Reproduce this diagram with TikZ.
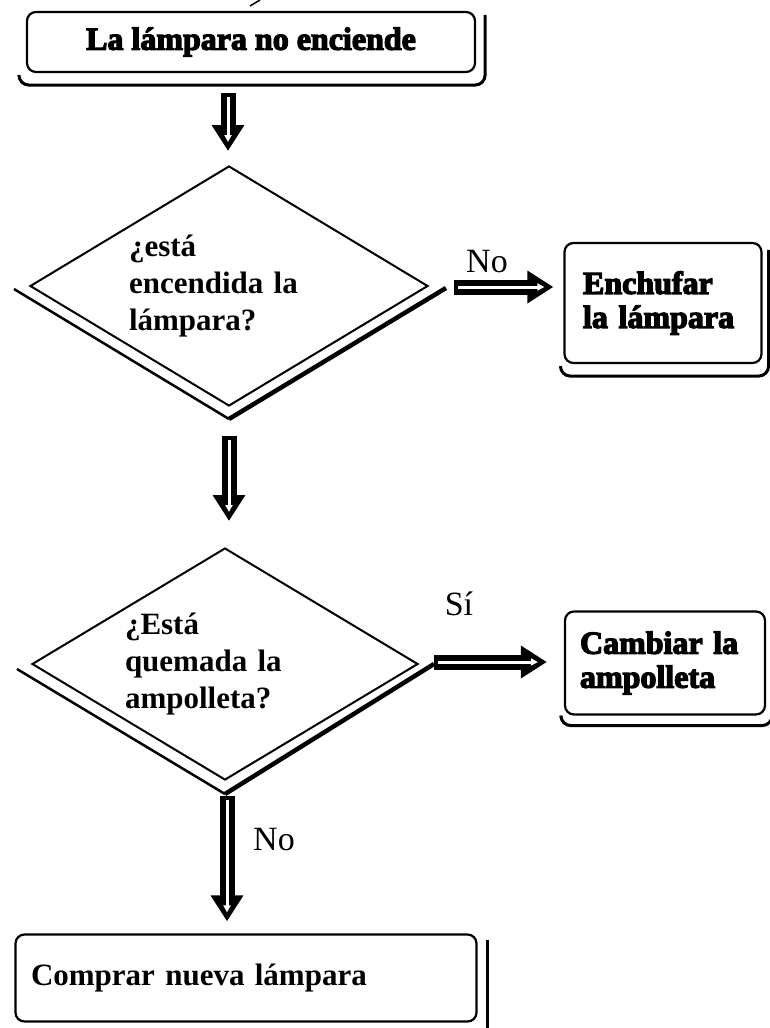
\documentclass[tikz,border=0pt]{standalone}
\usepackage{fontspec}
\setmainfont{Liberation Serif}
\newfontfamily\heavyfont{Liberation Serif}[UprightFont={* Bold},FakeBold=4]
\usetikzlibrary{shapes,shapes.geometric,arrows.meta,calc,positioning}
\tikzset{
    boxnode/.style={draw, line width=2.2pt, rounded corners=9pt, inner sep=0pt},
    decision/.style={diamond, draw, line width=2pt, inner sep=0pt, aspect=1.66,
        font=\bfseries\fontsize{31}{37}\selectfont, align=left, text width=200pt},
    heavytext/.style={font=\heavyfont\fontsize{32}{34}\selectfont},
    answer/.style={font=\fontsize{34}{40}\selectfont, inner sep=0pt},
    boxshadow/.style={line width=3pt, rounded corners=10pt},
    thinshadow/.style={line width=2.5pt},
    thickshadow/.style={line width=4.5pt},
    fatarrow/.style={line width=15pt, -{Triangle[length=26pt,width=31pt]}},
    innerline/.style={line width=3pt, white, shorten <=4pt, shorten >=9pt, -{Triangle[length=7pt,width=7pt]}}}

\begin{document}
\begin{tikzpicture}[x=1pt,y=-1pt]
\useasboundingbox (0,0) rectangle (770,1028);

%nodes
\node[boxnode, heavytext, minimum width=448pt, minimum height=60pt] (start) at (251,42) {La lámpara no enciende};
\node[decision, minimum width=398pt, minimum height=240pt] (q1) at (229,286) {¿está\\encendida la\\lámpara?};
\node[boxnode, heavytext, align=left, text width=160pt, minimum width=197pt, minimum height=120pt] (plug) at (663,303) {Enchufar\\la lámpara};
\node[decision, minimum width=386pt, minimum height=232pt] (q2) at (225,664) {¿Está\\quemada la\\ampolleta?};
\node[boxnode, heavytext, align=left, text width=170pt, minimum width=200pt, minimum height=103pt] (bulb) at (665,663) {Cambiar la\\ampolleta};
\node[boxnode, font=\bfseries\fontsize{31}{37}\selectfont, align=left, text width=430pt, minimum width=461pt, minimum height=87pt] (buy) at (246,978) {Comprar nueva lámpara};

%labels
\node[answer] (no1) at (487,262) {No};
\node[answer] (si) at (459,604) {Sí};
\node[answer] (no2) at (274,840) {No};

%shadows
\draw[boxshadow] ($(start.south west)+(-7,3)$) |- ($(start.south east)+(9,12)$) -- ($(start.north east)+(9,4)$);
\draw[boxshadow] ($(plug.south west)+(-3,2)$) |- ($(plug.south east)+(6,12)$) -- ($(plug.north east)+(6,8)$);
\draw[boxshadow] ($(bulb.south west)+(-3,2)$) |- ($(bulb.south east)+(6,10)$) -- ($(bulb.north east)+(6,8)$);
\draw[line width=3pt] ($(buy.north east)+(10,7)$) -- ($(buy.south east)+(10,8)$);
\draw[thinshadow] ($(q1.west)+(-15,3)$) -- ($(q1.south)+(0,12)$);
\draw[thickshadow] ($(q1.south)+(0,12)$) -- ($(q1.east)+(17,2)$);
\draw[thinshadow] ($(q2.west)+(-14,5)$) -- ($(q2.south)+(0,13)$);
\draw[thickshadow] ($(q2.south)+(0,13)$) -- ($(q2.east)+(15,0)$);
\draw[line width=1.5pt] (260,0) -- (250,6);

%arrows
\coordinate (a1s) at ($(q1.north |- start.south)+(-1,20)$);
\coordinate (a1e) at ($(q1.north)+(-1,-14)$);
\coordinate (a2s) at ($(q1.south)+(0,29)$);
\coordinate (a2e) at ($(q1.south |- q2.north)+(0,-26)$);
\coordinate (a3s) at ($(q2.south)+(2,15)$);
\coordinate (a3e) at ($(q2.south |- buy.north)+(2,-12)$);
\coordinate (a4s) at ($(q1.east)+(25,1)$);
\coordinate (a4e) at ($(plug.west |- q1.east)+(-10,1)$);
\coordinate (a5s) at ($(q2.east)+(15,-2)$);
\coordinate (a5e) at ($(bulb.west |- q2.east)+(-17,-2)$);
\foreach \a in {a1,a2,a3,a4,a5}{
  \draw[fatarrow] (\a s) -- (\a e);
  \draw[innerline] (\a s) -- (\a e);
}

\end{tikzpicture}
\end{document}
